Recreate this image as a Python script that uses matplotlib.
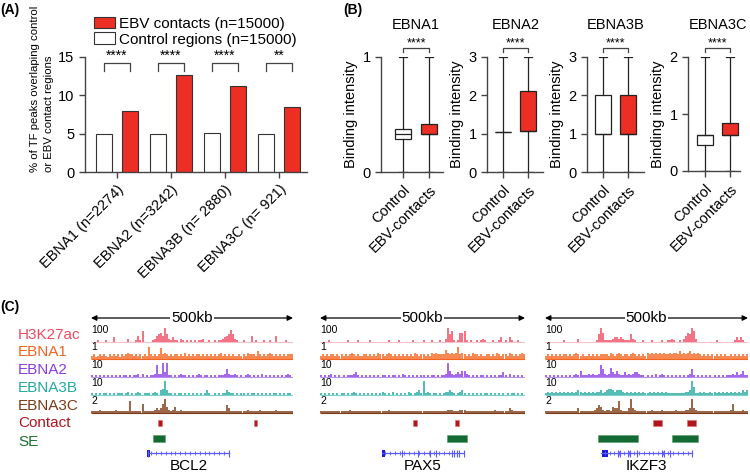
import numpy as np
import matplotlib
matplotlib.use('Agg')
import matplotlib.pyplot as plt
from matplotlib.patches import Rectangle

plt.rcParams['font.family'] = ['Liberation Sans', 'DejaVu Sans']

W, H = 750, 474
RED = '#ec2e24'
EDGE = '#333333'

# ---------------- panel A data
a_labels = ['EBNA1 (n=2274)', 'EBNA2 (n=3242)', 'EBNA3B (n= 2880)', 'EBNA3C (n= 921)']
control_pct = [5.0, 5.0, 5.05, 5.0]
contact_pct = [8.0, 12.6, 11.2, 8.5]
a_sig = ['****', '****', '****', '**']
legend_labels = ['EBV contacts (n=15000)', 'Control regions (n=15000)']

# ---------------- panel B data (box stats: q1, median, q3, low, high)
b_titles = ['EBNA1', 'EBNA2', 'EBNA3B', 'EBNA3C']
b_groups = ['Control', 'EBV-contacts']
ctrl_q1 = [0.29, 1.05, 1.0, 0.45]
ctrl_med = [0.33, 1.05, 1.0, 0.63]
ctrl_q3 = [0.37, 1.05, 2.0, 0.63]
cont_q1 = [0.33, 1.07, 1.0, 0.64]
cont_med = [0.33, 1.07, 1.0, 0.64]
cont_q3 = [0.42, 2.12, 2.0, 0.85]
whis_lo = [0, 0, 0, 0]
whis_hi = [1, 3, 3, 2]
b_ymax = [1, 3, 3, 2]
b_sig = ['****', '****', '****', '****']

# ---------------- panel C data
track_names = ['H3K27ac', 'EBNA1', 'EBNA2', 'EBNA3B', 'EBNA3C']
track_scale = ['100', '1', '10', '10', '2']
track_colors = ['#f04a60', '#f4651f', '#8b3ae6', '#23aaa0', '#7d3a16']
base_colors = ['#f8c0c8', '#f4651f', '#b592f0', '#7fd0ca', '#7d3a16']
genes = ['BCL2', 'PAX5', 'IKZF3']

# signal heights (0-9) in 5 kb bins over each 500 kb window
bcl2_signal = [
    '0001000100' '0300000020' '0014170000' '1245649521' '3110210101'
    '0101120010' '0101123458' '5210010004' '0100010010' '0400001000',
    '2312323213' '2323132343' '3232323283' '2323734323' '2332324232'
    '3233232323' '2323423232' '3223232433' '3253232343' '2323232333',
    '1010101010' '1010101101' '0112020101' '1282293911' '0101211010'
    '1012101101' '0101112521' '1210101210' '1010201010' '1010101210',
    '1010101101' '0101110120' '1012101110' '1210349311' '0101101010'
    '1010101310' '0101011321' '1010110101' '1010101010' '1101010110',
    '1111211111' '1121111118' '1111161111' '1232369421' '2411211111'
    '1111111111' '1111111531' '1111111211' '1112111111' '1211111111',
]
pax5_signal = [
    '0000100000' '0001000010' '0000100000' '0001000010' '0000010000'
    '1000100010' '0295710166' '7101001012' '1000100130' '1031001000',
    '2323233232' '3232343232' '2332323243' '3234323232' '3232324323'
    '3232434333' '3643434834' '3232433232' '2332324323' '3243232343',
    '1010120101' '0101112310' '1010101010' '1101011010' '2101010101'
    '1010110101' '1294212324' '4210101011' '0101010113' '1020101010',
    '1010101010' '1101012101' '0101010101' '2101020101' '0102101231'
    '9121011010' '1223210123' '1010101010' '1101010101' '0101101010',
    '1111111111' '1111211111' '1111111111' '1112111111' '1111111111'
    '1111111111' '1122211122' '2111111111' '1111121111' '1132111111',
]
ikzf3_signal = [
    '0000000001' '0000002000' '0000015961' '1112332321' '1152100010'
    '0010000100' '1121001024' '6597200000' '0000100000' '0001313100',
    '2323232323' '3232343232' '2323232333' '3243234323' '3234323232'
    '4343434343' '3434435343' '4534343232' '3232323232' '2323232323',
    '1010101010' '1010121411' '1212112852' '1263242113' '1212332110'
    '1010201210' '1010101010' '1251010101' '0101010101' '1121312411',
    '1212121212' '1212123212' '1212122312' '3443233321' '2121212121'
    '1212121212' '1111111112' '2395112121' '1212121212' '1212121323',
    '1111111111' '1111113111' '1111235421' '2214338211' '1393211111'
    '1121111211' '1111211112' '2393211111' '1111111111' '1261111211',
]
signals = [bcl2_signal, pax5_signal, ikzf3_signal]

# kb positions inside each 500 kb window
contacts = [[(167, 175), (404, 412)], [(227, 237), (329, 339)], [(266, 288), (349, 371)]]
super_enh = [[(154, 184)], [(309, 358)], [(130, 230), (314, 376)]]
gene_span = [(141, 342), (150, 351), (139, 361)]
gene_block = [(139, 147), (150, 159), (140, 156)]
gene_exons = [[141, 342],
              [200, 239, 268, 283, 322, 327, 334, 339, 351],
              [180, 185, 204, 209, 227, 288, 293, 308, 362]]

fig = plt.figure(figsize=(W / 100, H / 100), dpi=100)


def add_ax(l, t, r, b):
    return fig.add_axes([l / W, 1 - b / H, (r - l) / W, (b - t) / H])


def style(ax):
    for s in ['top', 'right']:
        ax.spines[s].set_visible(False)
    for s in ['left', 'bottom']:
        ax.spines[s].set_color('#444444')
        ax.spines[s].set_linewidth(1)
    ax.tick_params(direction='out', length=4, width=1, color='#444444', labelsize=10.5)


# ---------------- (A)
ax = add_ax(85, 57, 307, 172)
x = np.arange(len(a_labels))
ax.bar(x - 0.24, control_pct, width=0.3, color='white', edgecolor=EDGE, lw=0.8)
ax.bar(x + 0.24, contact_pct, width=0.3, color=RED, edgecolor=EDGE, lw=0.8)
ax.set_xlim(-0.59, 3.52)
ax.set_ylim(0, 15)
ax.set_yticks([0, 5, 10, 15])
ax.set_xticks(x)
ax.set_xticklabels(a_labels, rotation=45, ha='right', rotation_mode='anchor', fontsize=10)
style(ax)
for i, s in enumerate(a_sig):
    ax.plot([i - 0.24, i - 0.24, i + 0.24, i + 0.24], [13.2, 14.2, 14.2, 13.2],
            color='#444444', lw=0.9, clip_on=False)
    ax.text(i, 14.2, s, ha='center', va='bottom', fontsize=10)
ax.set_ylabel('% of TF peaks overlaping control\nor EBV contact regions',
              fontsize=8.2, linespacing=1.5, labelpad=3, loc='bottom')
ax.yaxis.label.set_multialignment('left')
handles = [Rectangle((0, 0), 1, 1, facecolor=RED, edgecolor=EDGE, lw=0.8),
           Rectangle((0, 0), 1, 1, facecolor='white', edgecolor=EDGE, lw=0.8)]
ax.legend(handles, legend_labels, loc='lower left', bbox_to_anchor=(0.04, 1.09),
          frameon=False, fontsize=11, handlelength=1.4, handleheight=0.8,
          handletextpad=0.25, labelspacing=0.12, borderpad=0, borderaxespad=0)

# ---------------- (B)
b_left = [381, 487, 587, 688]
b_right = [443, 543, 644, 740]
b_bottom = [172, 172, 172, 171]
b_pos = [(403, 429), (503, 528), (603, 628), (705, 730)]
for k in range(4):
    ax = add_ax(b_left[k], 57, b_right[k], b_bottom[k])
    c, r = b_pos[k]
    unit = r - c
    stats = [dict(q1=ctrl_q1[k], med=ctrl_med[k], q3=ctrl_q3[k], whislo=whis_lo[k], whishi=whis_hi[k], fliers=[]),
             dict(q1=cont_q1[k], med=cont_med[k], q3=cont_q3[k], whislo=whis_lo[k], whishi=whis_hi[k], fliers=[])]
    bp = ax.bxp(stats, positions=[1, 2], widths=16 / unit, patch_artist=True, showfliers=False,
                capwidths=0.3,
                boxprops=dict(edgecolor='#222222', lw=0.9),
                medianprops=dict(color='#222222', lw=0.9),
                whiskerprops=dict(color='#222222', lw=0.9),
                capprops=dict(color='#222222', lw=0.9))
    bp['boxes'][0].set_facecolor('white')
    bp['boxes'][1].set_facecolor(RED)
    ax.set_xlim(1 - (c - b_left[k]) / unit, 2 + (b_right[k] - r) / unit)
    ax.set_ylim(0, b_ymax[k])
    ax.set_yticks(range(b_ymax[k] + 1))
    ax.set_xticks([1, 2])
    ax.set_xticklabels(b_groups, rotation=45, ha='right', rotation_mode='anchor', fontsize=10.5)
    style(ax)
    ax.set_ylabel('Binding intensity', fontsize=10.5, labelpad=3)
    tr = ax.get_xaxis_transform()
    ax.plot([1, 1, 2, 2], [1.043, 1.078, 1.078, 1.043], color='#444444', lw=0.9,
            transform=tr, clip_on=False)
    ax.text(1.5, 1.07, b_sig[k], ha='center', va='bottom', fontsize=9, transform=tr)
    ax.text(1.5, 1.28, b_titles[k], ha='center', va='center', fontsize=10.5, transform=tr)

# ---------------- (C)
loc_left = [91, 320, 545]
loc_right = [293, 525, 748]
track_base = [30, 47, 65, 83, 101]
unit_h = 14 / 9
for li in range(3):
    ax = add_ax(loc_left[li], 312, loc_right[li], 474)
    ax.set_xlim(0, 500)
    ax.set_ylim(162, 0)
    ax.axis('off')
    ax.annotate('', xy=(0, 6), xytext=(500, 6),
                arrowprops=dict(arrowstyle='<|-|>', color='black', lw=0.9, mutation_scale=8,
                                shrinkA=0, shrinkB=0))
    ax.text(250, 6, '500kb', ha='center', va='center', fontsize=11,
            bbox=dict(facecolor='white', edgecolor='none', pad=0.5))
    for ti, s in enumerate(signals[li]):
        vals = np.array([int(ch) for ch in s])
        centers = np.arange(len(vals)) * 5 + 2.5
        base = track_base[ti]
        ax.hlines(base, 0, 500, color=base_colors[ti], lw=0.8)
        ax.vlines(centers, base, base - vals * unit_h, color=track_colors[ti], lw=1.1)
        ax.text(0, base - 12, track_scale[ti], fontsize=7.5, ha='left', va='center')
    for s0, s1 in contacts[li]:
        ax.add_patch(Rectangle((s0, 108), s1 - s0, 6, facecolor='#b3151c', edgecolor='#e07070', lw=0.4))
    for s0, s1 in super_enh[li]:
        ax.add_patch(Rectangle((s0, 123), s1 - s0, 7, facecolor='#136b33', edgecolor='#5a9a6a', lw=0.4))
    g0, g1 = gene_span[li]
    ax.plot([g0, g1], [141, 141], color='#5a5aff', lw=0.9)
    chev = np.arange(g0 + 8, g1, 12)
    ax.plot(chev, np.full(len(chev), 141), ls='none', marker='|', ms=3, color='#5a5aff', mew=0.6)
    ax.vlines(gene_exons[li], 137.5, 144.5, color='#5a5aff', lw=0.8)
    b0, b1 = gene_block[li]
    ax.add_patch(Rectangle((b0, 137.5), b1 - b0, 7, facecolor='#1a1ad6', edgecolor='none'))
    ax.text((g0 + g1) / 2, 154, genes[li], ha='center', va='center', fontsize=11)

label_names = track_names + ['Contact', 'SE']
label_y = [312 + b - 7 for b in track_base] + [423, 442]
label_colors = ['#f04a60', '#f4651f', '#8b3ae6', '#23aaa0', '#7d3a16', '#b3151c', '#1e6e35']
for name, col, yy in zip(label_names, label_colors, label_y):
    fig.text(18 / W, 1 - yy / H, name, color=col, fontsize=11, ha='left', va='center')

fig.text(0, 1 - 10 / H, '(A)', fontsize=10, fontweight='bold', va='center')
fig.text(343 / W, 1 - 10 / H, '(B)', fontsize=10, fontweight='bold', va='center')
fig.text(0, 1 - 307 / H, '(C)', fontsize=10, fontweight='bold', va='center')

fig.savefig('out.png', dpi=100)
